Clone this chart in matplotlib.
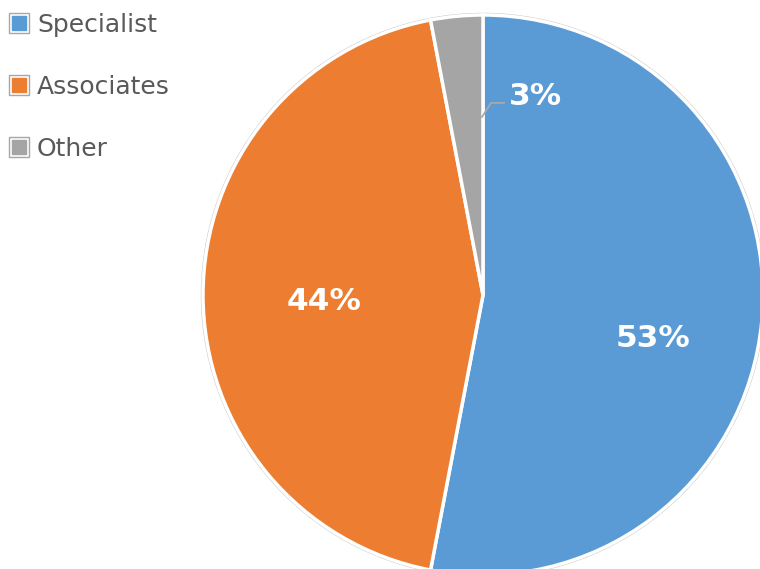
import matplotlib
matplotlib.use('Agg')
import matplotlib.pyplot as plt
from matplotlib.lines import Line2D
import numpy as np

# Data
labels = ['Specialist', 'Associates', 'Other']
shares = [53, 44, 3]
colors = ['#5B9BD5', '#ED7D31', '#A5A5A5']

W, H = 760, 569
fig = plt.figure(figsize=(W / 100, H / 100), dpi=100)
ax = fig.add_axes([0, 0, 1, 1])

cx, cy, r = 483, H - 295, 280

# faint outline round the pie
ax.add_patch(plt.Circle((cx, cy), r + 1.5, facecolor='none', edgecolor='#c8c8c8',
                        linewidth=1.0, zorder=1))

wedges, _ = ax.pie(shares, colors=colors, startangle=90, counterclock=False,
                   center=(cx, cy), radius=r, frame=True,
                   wedgeprops=dict(edgecolor='white', linewidth=2.5))
ax.set_xlim(0, W)
ax.set_ylim(0, H)
ax.set_aspect('equal')
ax.axis('off')

# label offsets from the centre, as fractions of the radius (x, baseline y)
label_offsets = [(0.607, -0.186), (-0.568, -0.052)]

for w, s, off in zip(wedges, shares, label_offsets + [None]):
    if off is not None:
        ax.text(cx + off[0] * r, cy + off[1] * r, f'{s}%', ha='center', va='baseline',
                color='white', fontsize=22.5, fontweight='bold', zorder=5)
    else:
        # small slice: label sits in the next slice with a leader line
        edge = np.deg2rad(w.theta1)
        tip = (cx + 0.636 * r * np.cos(edge) - 1, cy + 0.636 * r * np.sin(edge))
        ax.plot([tip[0] + 22, tip[0] + 9, tip[0]], [tip[1] + 14, tip[1] + 14, tip[1]],
                color='#a8a8a8', linewidth=1.3, zorder=5)
        ax.text(tip[0] + 27, tip[1] + 12, f'{s}%', ha='left', va='baseline',
                color='white', fontsize=22.5, fontweight='bold', zorder=5)

# legend
handles = []
for c in colors:
    outer = Line2D([], [], marker='s', linestyle='none', markersize=14.5,
                   markerfacecolor='white', markeredgecolor='#a6a6a6', markeredgewidth=1)
    inner = Line2D([], [], marker='s', linestyle='none', markersize=9.5,
                   markerfacecolor=c, markeredgecolor=c)
    handles.append((outer, inner))
leg = ax.legend(handles, labels, loc='upper left', bbox_to_anchor=(-0.008, 1.004),
                frameon=False, fontsize=18, labelspacing=1.52, handlelength=0.8,
                handletextpad=0.32, borderaxespad=0.2)
for t in leg.get_texts():
    t.set_color('#595959')

fig.savefig('out.png', dpi=100, facecolor='white')
